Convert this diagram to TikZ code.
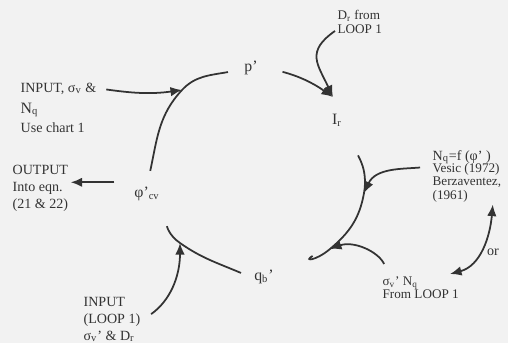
\documentclass[tikz,border=0pt]{standalone}
\usepackage{fontspec}
\setmainfont{Liberation Serif}
\usetikzlibrary{arrows.meta}
\newcommand{\tightfont}{\fontsize{7.5}{7.5}\selectfont\setlength{\lineskiplimit}{-5pt}}

\begin{document}
\begin{tikzpicture}[line width=1pt, color=black!80, >={Latex[length=2.3mm,width=1.9mm]},
    cyc/.style={circle, minimum size=0.9cm, inner sep=0pt, font=\small},
    txt/.style={align=left, inner sep=1pt, font=\footnotesize},
    tight/.style={txt, font=\tightfont}]
        \useasboundingbox (0,0) rectangle (10.16,6.86);
        \fill[black!5] (0,0) rectangle (10.16,6.86);

        % loop quantities
        \node (p) [cyc] at (5.02,5.50) {p'};
        \node (Ir) [cyc] at (6.74,4.46) {I\textsubscript{r}};
        \node (phi) [cyc] at (2.94,2.98) {φ'\textsubscript{cv}};
        \node (qb) [cyc] at (5.28,1.32) {q\textsubscript{b}'};

        % where the inputs meet the loop
        \coordinate (jA) at (3.64,5.06);
        \coordinate (jB) at (7.28,3.00);
        \coordinate (jC) at (6.60,1.88);
        \coordinate (jD) at (3.60,2.00);

        % inputs and outputs
        \node (in1) [txt, anchor=base west] at (0.36,5.02) {INPUT, σ\textsubscript{v} \&};
        \node (nqin) [txt, anchor=base west, font=\small] at (0.36,4.60) {N\textsubscript{q}};
        \node (chart) [txt, anchor=base west] at (0.36,4.22) {Use chart 1};
        \node (out) [txt, anchor=north west] at (0.20,3.60) {OUTPUT\\Into eqn.\\(21 \& 22)};
        \node (dr) [tight, anchor=north west] at (6.70,6.70) {D\textsubscript{r} from\\LOOP 1};
        \node (nq) [txt, anchor=base west] at (8.60,3.66) {N\textsubscript{q}=f (φ' )};
        \node (ves) [tight, anchor=north west] at (8.60,3.64) {Vesic (1972)\\Berzaventez,\\(1961)};
        \node (sv) [tight, anchor=north west] at (7.60,1.38) {σ\textsubscript{v}' N\textsubscript{q}\\From LOOP 1};
        \node (in2) [txt, anchor=north west] at (1.62,0.96) {INPUT\\(LOOP 1)\\σ\textsubscript{v}' \& D\textsubscript{r}};
        \node (orl) [txt] at (9.86,1.82) {or};

        % the loop
        \draw (phi.82) to[out=78,in=227] (jA) to[out=47,in=190] (p.190);
        \draw[->, shorten <=0.17cm] (p.-4) to[out=-15,in=145] (Ir.100);
        \draw[shorten <=0.44cm, shorten >=0.6cm] (Ir.-35) to[out=-85,in=80] (jB) to[out=-100,in=40] (jC) to[out=-140,in=30] (qb.15);
        \draw[shorten >=0.29cm] (qb.170) to[out=157,in=-35] (jD) to[out=145,in=-60] (phi.-57);

        \draw[->, shorten <=0.15cm] (in1.east) to[out=-8,in=188] (jA);
        \draw[->, shorten <=0.25cm] (phi.150) -- (phi.150 -| out.east);
        \draw[->, looseness=1.4] (dr.200) to[out=215,in=115] (Ir.100);
        \draw[->, shorten <=0.2cm] (nq.south west) to[out=185,in=65] (jB);
        \draw[->, shorten <=0.22cm] ([xshift=5pt]sv.north west) to[out=115,in=20] (jC);
        \draw[<->] (sv.25) to[out=15,in=-95] (ves.-40);
        \draw[->, shorten <=0.2cm] (in2.east) to[out=35,in=-90] (jD);
    \end{tikzpicture}
\end{document}
